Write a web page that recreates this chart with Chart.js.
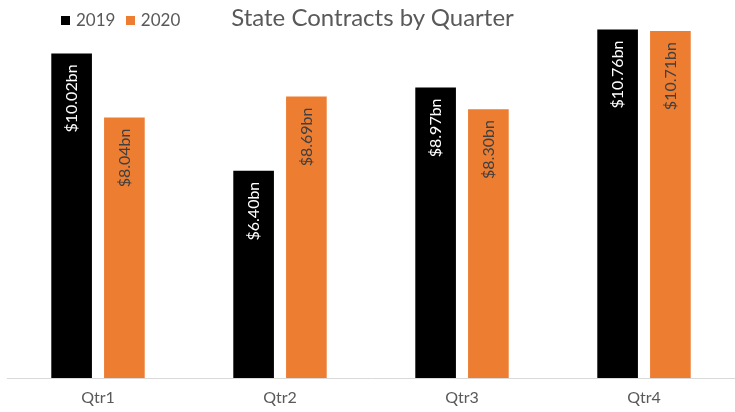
<!DOCTYPE html>
<html>
<head>
<meta charset="utf-8">
<script src="https://cdn.jsdelivr.net/npm/chart.js@4"></script>
<style>
  body { margin: 0; background: #fff; }
  #wrap { position: relative; width: 735px; height: 412px; overflow: hidden; }
  #title { position: absolute; top: 2px; left: 0; width: 745px; text-align: center;
           font: 24px Lato, sans-serif; color: #595959; }
  #legend { position: absolute; top: 9px; left: 61px; font: 17px Lato, sans-serif; color: #595959; }
  #legend span.box { display: inline-block; width: 9px; height: 9px; margin-right: 6px; vertical-align: 1px; }
  #legend span.item { margin-right: 6px; }
</style>
</head>
<body>
<div id="wrap">
  <canvas id="chart" width="735" height="412"></canvas>
  <div id="title">State Contracts by Quarter</div>
  <div id="legend">
    <span class="box" style="background:#000000"></span><span class="item">2019</span>
    <span class="box" style="background:#ed7d31"></span><span class="item">2020</span>
  </div>
</div>
<script>
// 분기별 주 계약 금액 (단위: 십억 달러)
const quarters = ['Qtr1', 'Qtr2', 'Qtr3', 'Qtr4'];
const values2019 = [10.02, 6.40, 8.97, 10.76];
const values2020 = [8.04, 8.69, 8.30, 10.71];

// 막대 안쪽 세로 라벨
const barLabels = {
  id: 'barLabels',
  afterDatasetsDraw(chart) {
    const ctx = chart.ctx;
    chart.data.datasets.forEach(function(ds, i) {
      const meta = chart.getDatasetMeta(i);
      meta.data.forEach(function(bar, j) {
        ctx.save();
        ctx.translate(bar.x, bar.y + 11);
        ctx.rotate(-Math.PI / 2);
        ctx.font = '16px Lato, sans-serif';
        ctx.fillStyle = ds.labelColor;
        ctx.textAlign = 'right';
        ctx.textBaseline = 'middle';
        ctx.fillText('$' + ds.data[j].toFixed(2) + 'bn', 0, 0);
        ctx.restore();
      });
    });
  }
};

const ctx = document.getElementById('chart').getContext('2d');
const chart = new Chart(ctx, {
  type: 'bar',
  data: {
    labels: quarters,
    datasets: [
      {
        label: '2019',
        data: values2019,
        backgroundColor: '#000000',
        labelColor: '#ffffff',
        barPercentage: 0.77,
        categoryPercentage: 0.58
      },
      {
        label: '2020',
        data: values2020,
        backgroundColor: '#ed7d31',
        labelColor: '#404040',
        barPercentage: 0.77,
        categoryPercentage: 0.58
      }
    ]
  },
  options: {
    responsive: false,
    animation: false,
    layout: { padding: { left: 7, right: -3, top: 0, bottom: 0 } },
    plugins: {
      legend: { display: false },
      title: { display: false },
      tooltip: { enabled: false }
    },
    scales: {
      y: {
        display: false,
        min: 0,
        max: 11.67
      },
      x: {
        grid: { display: false },
        border: { color: '#d9d9d9', width: 1 },
        ticks: {
          color: '#595959',
          font: { family: 'Lato', size: 16 },
          padding: 2
        },
        afterFit: function(scale) {
          scale.height = 34;
        }
      }
    }
  },
  plugins: [barLabels]
});
</script>
</body>
</html>
